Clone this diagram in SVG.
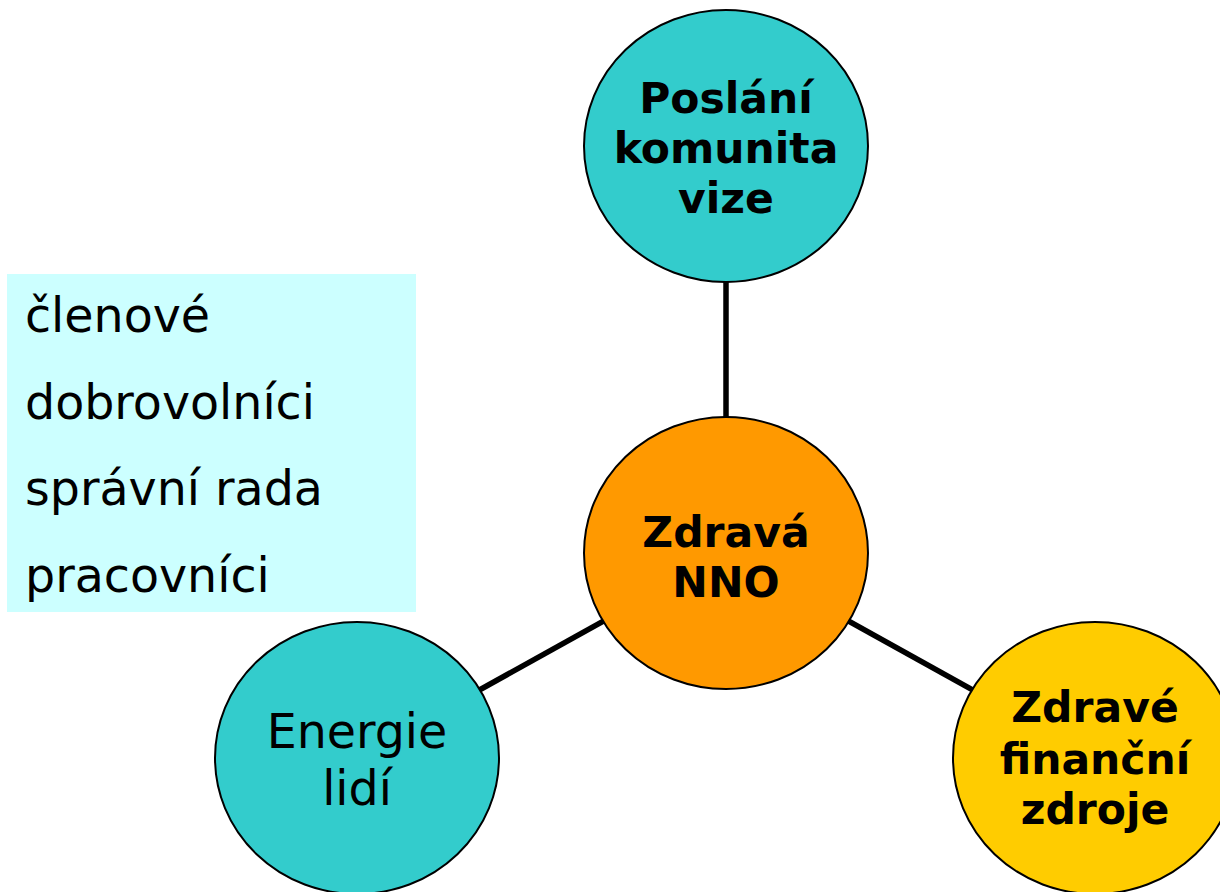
<svg xmlns="http://www.w3.org/2000/svg" width="1220" height="892" viewBox="0 0 1220 892">
<style>
.n{stroke:#000;stroke-width:2}
.b{font-family:"DejaVu Sans","Verdana",sans-serif;font-weight:bold;font-size:42.5px;fill:#000;text-anchor:middle}
.r{font-family:"DejaVu Sans","Verdana",sans-serif;font-size:47.5px;fill:#000}
.c{stroke:#000;stroke-width:5.5;fill:none}
</style>
<rect width="1220" height="892" fill="#fff"/>
<g id="connectors">
<line class="c" x1="726" y1="146" x2="726" y2="553"/>
<line class="c" x1="726" y1="553" x2="357" y2="758"/>
<line class="c" x1="726" y1="553" x2="1095" y2="758"/>
</g>
<g id="box">
<rect x="7" y="274" width="409" height="338" fill="#ccffff"/>
<text class="r" x="25" y="332">členové</text>
<text class="r" x="25" y="419">dobrovolníci</text>
<text class="r" x="25" y="505">správní rada</text>
<text class="r" x="25" y="592">pracovníci</text>
</g>
<g id="poslani">
<ellipse class="n" cx="726" cy="146" rx="142" ry="136" fill="#33cccc"/>
<text class="b" x="726" y="113">Poslání</text>
<text class="b" x="726" y="163">komunita</text>
<text class="b" x="726" y="213">vize</text>
</g>
<g id="nno">
<ellipse class="n" cx="726" cy="553" rx="142" ry="136" fill="#ff9900"/>
<text class="b" x="726" y="547">Zdravá</text>
<text class="b" x="726" y="597">NNO</text>
</g>
<g id="energie">
<ellipse class="n" cx="357" cy="758" rx="142" ry="136" fill="#33cccc"/>
<text class="r" x="357" y="748" text-anchor="middle">Energie</text>
<text class="r" x="357" y="805" text-anchor="middle">lidí</text>
</g>
<g id="finance">
<ellipse class="n" cx="1095" cy="758" rx="142" ry="136" fill="#ffcc00"/>
<text class="b" x="1095" y="722">Zdravé</text>
<text class="b" x="1095" y="774">finanční</text>
<text class="b" x="1095" y="824">zdroje</text>
</g>
</svg>
